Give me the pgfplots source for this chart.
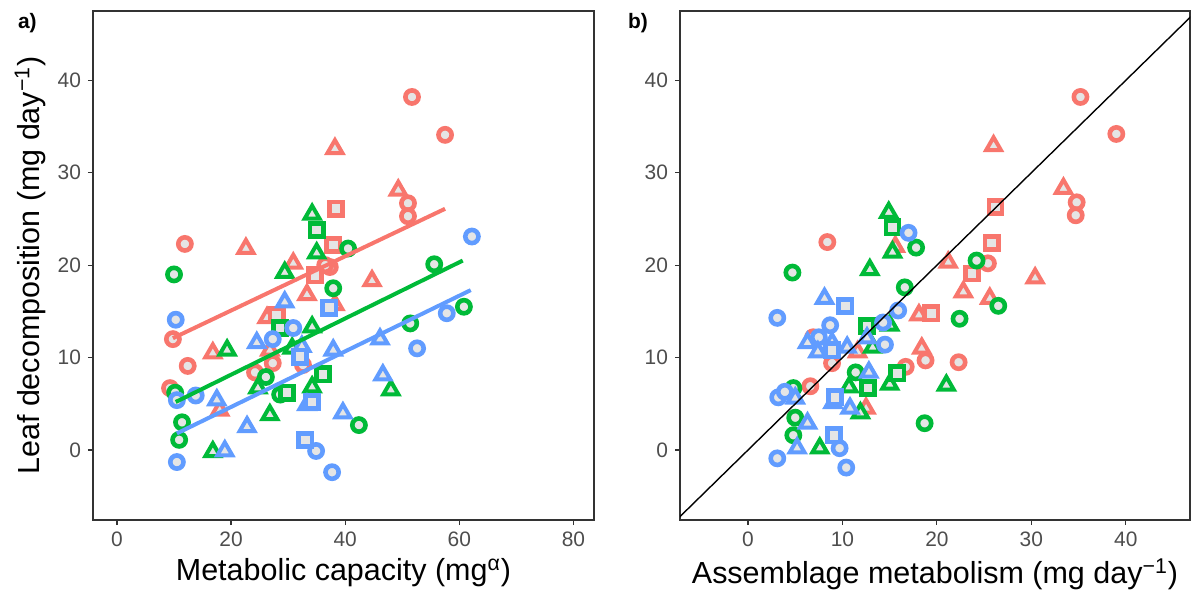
\documentclass[border=0pt]{standalone}
\usepackage{fontspec}
\setmainfont{Liberation Sans}
\usepackage{pgfplots}
\pgfplotsset{compat=1.18}

\definecolor{cred}{HTML}{F8766D}
\definecolor{cgreen}{HTML}{00BA38}
\definecolor{cblue}{HTML}{619CFF}
\definecolor{ptfill}{HTML}{E5E5E5}
\definecolor{ticktxt}{HTML}{4D4D4D}

\pgfplotsset{
  panel/.style={
    scale only axis, height=254.5bp,
    ymin=-7.57, ymax=47.5, ytick={0,10,20,30,40},
    axis line style={draw=black!80, line width=0.6bp},
    tick style={draw=black!80, line width=0.6bp},
    tick align=outside, major tick length=2.5bp,
    xtick pos=bottom, ytick pos=left,
    tick label style={font=\fontsize{10.5}{12}\selectfont, text=ticktxt},
    label style={font=\fontsize{15.3}{17}\selectfont},
    /pgf/number format/assume math mode=true,
    clip marker paths=true,
  },
  pt/.style={only marks, mark size=3.3bp,
    mark options={solid, line width=2.3bp, fill=ptfill, draw=#1}},
  tri/.style={only marks, mark=triangle*, mark size=4.3bp,
    mark options={solid, line width=2bp, fill=ptfill, draw=#1}},
}

\begin{document}
\begin{tikzpicture}
\useasboundingbox (-46.5bp,-36bp) rectangle (549.5bp,260bp);

% a) metabolic capacity
\begin{axis}[panel, width=250.5bp,
    xmin=-4.2, xmax=83.6, xtick={0,20,40,60,80},
    xlabel={Metabolic capacity (mg\textsuperscript{α})},
    ylabel={Leaf decomposition (mg day\textsuperscript{−1})},
    xlabel style={yshift=1bp}, ylabel style={yshift=-1bp}]
% red
\addplot[pt=cred, mark=*] coordinates {(11.9,22.3) (37.3,19.8) (36.5,20.0) (9.8,12.0) (27.3,9.4) (32.6,9.2)
  (12.4,9.1) (24.2,8.4) (9.3,6.7) (51.7,38.2) (57.5,34.1) (51.0,26.7) (51.0,25.3)};
\addplot[tri=cred] coordinates {(38.2,32.6) (22.6,21.8) (30.9,20.2) (33.3,16.8) (26.3,14.3)
  (26.8,10.8) (16.8,10.5) (18.0,4.3) (49.3,28.1) (44.7,18.3) (38.2,15.7)};
\addplot[pt=cred, mark=square*] coordinates {(38.4,26.1) (37.9,22.2) (34.7,18.9) (28.0,14.6)};
% green
\addplot[pt=cgreen, mark=*] coordinates {(10.0,19.0) (37.9,17.5) (26.1,7.9) (28.6,6.0) (11.4,3.0) (10.9,1.1)
  (40.5,21.8) (55.6,20.1) (51.4,13.7) (60.8,15.5) (42.4,2.7) (10.2,6.2)};
\addplot[tri=cgreen] coordinates {(34.2,25.5) (35.0,21.3) (29.4,19.2) (34.2,13.3) (30.7,11.0)
  (19.3,10.8) (24.7,6.7) (34.2,6.8) (26.8,3.8) (16.8,-0.2) (48.0,6.5)};
\addplot[pt=cgreen, mark=square*] coordinates {(35.0,23.8) (28.6,13.2) (36.1,8.2) (29.8,6.2)};
% blue
\addplot[pt=cblue, mark=*] coordinates {(62.2,23.1) (10.3,14.1) (30.9,13.2) (27.3,12.0) (10.5,5.4) (13.8,5.9)
  (34.9,-0.1) (10.5,-1.3) (37.7,-2.4) (57.8,14.8) (52.6,11.0)};
\addplot[tri=cblue] coordinates {(29.4,16.0) (24.5,11.6) (32.4,11.2) (37.9,10.8) (17.5,5.4)
  (33.3,4.9) (22.8,2.5) (18.9,-0.1) (46.1,12.0) (46.6,8.1) (39.6,4.0)};
\addplot[pt=cblue, mark=square*] coordinates {(37.2,15.4) (32.1,10.1) (34.2,5.2) (33.0,1.1)};
% fitted lines
\addplot[cred, line width=2bp] coordinates {(9.8,12.1) (57.5,26.1)};
\addplot[cgreen, line width=2bp] coordinates {(10.3,5.2) (60.6,20.5)};
\addplot[cblue, line width=2bp] coordinates {(10.5,1.8) (62.0,17.3)};
\end{axis}
\node[font=\bfseries\fontsize{10.5}{12}\selectfont, anchor=north west] at (-41bp,257bp) {a)};

% b) assemblage metabolism
\begin{axis}[panel, width=255bp, at={(293.5bp,0)},
    xmin=-7.2, xmax=46.8, xtick={0,10,20,30,40},
    xlabel={Assemblage metabolism (mg day\textsuperscript{−1})},
    xlabel style={yshift=1bp}]
\addplot[pt=cred, mark=*] coordinates {(8.4,22.5) (35.2,38.2) (39.0,34.2) (34.8,26.8) (34.7,25.4) (25.4,20.2)
  (18.8,9.7) (22.3,9.5) (16.7,9.0) (6.9,12.2) (8.9,9.4) (6.6,6.9)};
\addplot[tri=cred] coordinates {(26.0,32.9) (33.4,28.3) (21.2,20.3) (30.4,18.6) (22.8,17.1)
  (25.6,16.4) (18.1,14.6) (18.4,11.0) (11.6,10.6) (12.5,4.5) (15.6,22.0)};
\addplot[pt=cred, mark=square*] coordinates {(26.2,26.3) (25.8,22.4) (23.7,19.1) (19.4,14.8)};
\addplot[pt=cgreen, mark=*] coordinates {(17.8,21.9) (4.7,19.2) (16.6,17.6) (24.2,20.5) (26.5,15.6) (22.4,14.2)
  (18.7,2.9) (11.4,8.4) (4.8,6.7) (5.0,3.5) (4.8,1.6)};
\addplot[tri=cgreen] coordinates {(14.9,25.7) (15.3,21.4) (12.9,19.5) (15.0,13.5) (15.0,7.1)
  (21.0,7.0) (13.2,11.1) (10.7,6.8) (11.9,4.0) (7.6,0.2)};
\addplot[pt=cgreen, mark=square*] coordinates {(15.3,24.1) (12.6,13.4) (15.8,8.3) (12.7,6.7)};
\addplot[pt=cblue, mark=*] coordinates {(17.0,23.5) (15.9,15.1) (14.3,13.8) (14.5,11.4) (3.1,14.3) (8.7,13.5)
  (7.5,12.2) (3.2,5.7) (3.9,6.3) (9.7,0.2) (3.1,-0.9) (10.4,-1.9)};
\addplot[tri=cblue] coordinates {(8.1,16.4) (6.3,11.6) (8.9,11.6) (7.4,10.6) (10.5,11.1)
  (12.6,12.1) (12.8,8.4) (5.0,5.6) (9.0,5.1) (10.8,4.5) (6.3,2.9) (5.2,0.2)};
\addplot[pt=cblue, mark=square*] coordinates {(10.3,15.6) (8.9,10.8) (9.2,5.7) (9.1,1.6)};
\addplot[black, line width=0.7bp] coordinates {(-10,-10) (50,50)};
\end{axis}
\node[font=\bfseries\fontsize{10.5}{12}\selectfont, anchor=north west] at (264bp,257bp) {b)};
\end{tikzpicture}
\end{document}
